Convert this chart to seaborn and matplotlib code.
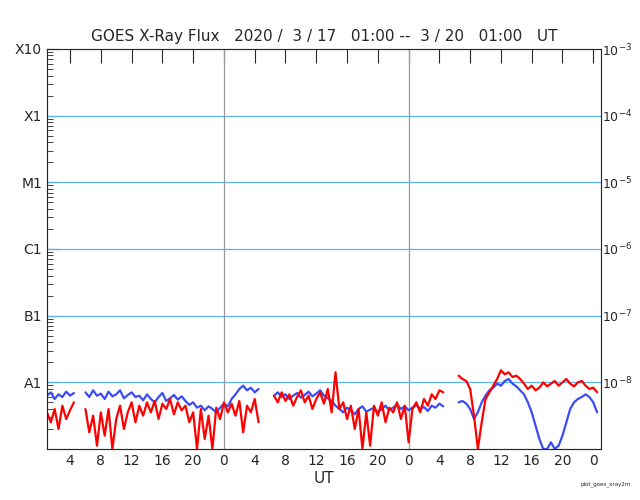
import numpy as np
import pandas as pd
import matplotlib
matplotlib.use('Agg')
import matplotlib.pyplot as plt
import seaborn as sns

nan = np.nan
# log10 flux (W/m^2), 30-minute samples starting 2020-03-17 01:00 UT
blue_log = [-8.20, -8.15, -8.25, -8.18, -8.22, -8.14, -8.20, -8.16,
            nan, nan,
            -8.15, -8.22, -8.12, -8.20, -8.17, -8.25, -8.14, -8.21, -8.18, -8.12, -8.24, -8.19, -8.15, -8.22,
            -8.20, -8.27, -8.18, -8.25, -8.30, -8.22, -8.16, -8.28, -8.24, -8.19, -8.26, -8.21,
            -8.28, -8.34, -8.30, -8.38, -8.35, -8.42, -8.36, -8.40, -8.45, -8.38, -8.32, -8.36,
            -8.25, -8.18, -8.10, -8.05, -8.12, -8.08, -8.15, -8.10,
            nan, nan, nan,
            -8.20, -8.15, -8.22, -8.18, -8.25, -8.20, -8.16, -8.23, -8.19, -8.14, -8.21, -8.17, -8.12, -8.20, -8.24, -8.28, -8.35,
            -8.40, -8.45, -8.38, -8.42, -8.48, -8.40, -8.36, -8.44, -8.41, -8.38, -8.45, -8.40, -8.35, -8.42,
            -8.38, -8.33, -8.40, -8.36, -8.42, -8.38, -8.34, -8.40, -8.37, -8.43, -8.35, -8.38, -8.32, -8.36,
            nan, nan, nan,
            -8.30, -8.28, -8.32, -8.40, -8.55, -8.45, -8.30, -8.20, -8.12, -8.08, -8.02, -8.05, -7.98, -7.95,
            -8.02, -8.06, -8.12, -8.18, -8.30, -8.45, -8.65, -8.85, -9.00, -9.00, -8.90, -9.00, -8.95, -8.80,
            -8.60, -8.40, -8.30, -8.25, -8.22, -8.18, -8.22, -8.30, -8.45]
red_log = [-8.45, -8.60, -8.40, -8.70, -8.35, -8.55, -8.42, -8.30,
           nan, nan,
           -8.40, -8.75, -8.50, -8.95, -8.45, -8.80, -8.40, -9.00, -8.55, -8.35, -8.70, -8.45, -8.30, -8.60,
           -8.35, -8.50, -8.30, -8.45, -8.28, -8.55, -8.32, -8.40, -8.25, -8.48, -8.30, -8.42,
           -8.35, -8.60, -8.45, -9.00, -8.40, -8.85, -8.50, -9.00, -8.38, -8.55, -8.30, -8.45,
           -8.32, -8.50, -8.28, -8.75, -8.35, -8.45, -8.25, -8.60,
           nan, nan, nan,
           -8.20, -8.30, -8.15, -8.28, -8.18, -8.35, -8.22, -8.12, -8.30, -8.20, -8.40, -8.25, -8.15, -8.32, -8.10, -8.45, -7.85,
           -8.40, -8.30, -8.55, -8.35, -8.70, -8.40, -9.00, -8.45, -8.95, -8.35, -8.50, -8.30, -8.60, -8.38,
           -8.45, -8.30, -8.55, -8.35, -8.90, -8.40, -8.30, -8.45, -8.25, -8.35, -8.18, -8.25, -8.12, -8.15,
           nan, nan, nan,
           -7.90, -7.95, -7.98, -8.10, -8.50, -9.00, -8.60, -8.25, -8.15, -8.05, -7.95, -7.82, -7.88, -7.85,
           -7.92, -7.90, -7.95, -8.02, -8.10, -8.05, -8.12, -8.08, -8.00, -8.06, -8.02, -7.98, -8.05, -8.00,
           -7.95, -8.02, -8.06, -8.00, -7.98, -8.05, -8.10, -8.08, -8.15]
hours = np.arange(len(blue_log)) * 0.5

class_labels = ['X10', 'X1', 'M1', 'C1', 'B1', 'A1']
decades = [-3, -4, -5, -6, -7, -8]


def to_frame(vals, name):
    df = pd.DataFrame({'hour': hours, 'flux': 10.0 ** np.array(vals), 'ch': name})
    df['seg'] = df['flux'].isna().cumsum()
    return df.dropna()


data = pd.concat([to_frame(blue_log, 'long'), to_frame(red_log, 'short')])

sns.set_style('white')
fig = plt.figure(figsize=(6.4, 5.0), dpi=100)
ax = fig.add_axes([0.0734, 0.102, 0.8656, 0.8])

for d in decades[1:]:
    ax.axhline(10.0 ** d, color='#5ab4f0', lw=0.9, zorder=1)
for h in [23, 47]:
    ax.axvline(h, color='#999999', lw=0.9, zorder=1)

sns.lineplot(data=data, x='hour', y='flux', hue='ch', units='seg', estimator=None,
             palette={'long': '#3b4cf5', 'short': '#ff0000'}, lw=1.6,
             legend=False, ax=ax, zorder=3)

ax.set_yscale('log')
ax.set_ylim(1e-9, 1e-3)
ax.set_xlim(0, 72)
xt = np.arange(3, 72, 4)
ax.set_xticks(xt)
ax.set_xticklabels([str(int((1 + h) % 24)) for h in xt], fontsize=10)
ax.set_xticks(np.arange(0, 73, 1), minor=True)
ax.set_yticks([10.0 ** d for d in decades])
ax.set_yticklabels(class_labels, fontsize=10)
ax.tick_params(axis='both', which='both', direction='in', top=True, right=True)
ax.tick_params(axis='x', which='major', length=10)
ax.tick_params(axis='x', which='minor', length=0)
ax.tick_params(axis='y', which='major', length=8)
ax.tick_params(axis='y', which='minor', length=4)
ax.set_xlabel('UT', fontsize=11, labelpad=2)
ax.set_ylabel('')
for s in ax.spines.values():
    s.set_color('#888888')

ax2 = ax.twinx()
ax2.set_yscale('log')
ax2.set_ylim(1e-9, 1e-3)
ax2.set_yticks([10.0 ** d for d in decades])
ax2.set_yticklabels(['$10^{%d}$' % d for d in decades], fontsize=9)
ax2.tick_params(axis='y', which='both', direction='in', pad=1, length=0)

ax.set_title('GOES X-Ray Flux   2020 /  3 / 17   01:00 --  3 / 20   01:00   UT', fontsize=11, pad=6)
fig.text(0.985, 0.03, 'plot_goes_xray2m', fontsize=4, ha='right')

fig.savefig('out.png', dpi=100)
